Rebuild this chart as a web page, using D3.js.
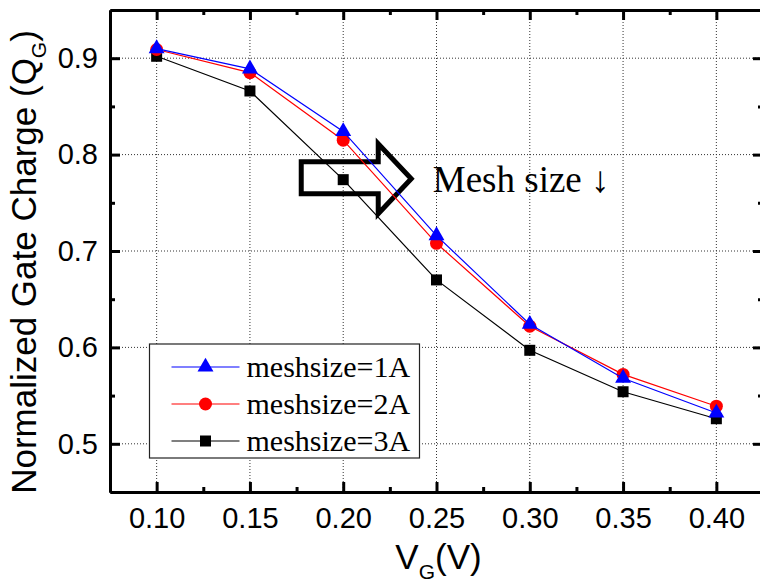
<!DOCTYPE html>
<html>
<head>
<meta charset="utf-8">
<script src="https://cdn.jsdelivr.net/npm/d3@7"></script>
<style>
  body { margin: 0; background: #fff; }
  svg { display: block; }
</style>
</head>
<body>
<div id="chart"></div>
<script>
// gate voltage (V)
const vg = [0.10, 0.15, 0.20, 0.25, 0.30, 0.35, 0.40];
// normalized gate charge for each mesh size
const mesh1 = [0.910, 0.889, 0.824, 0.716, 0.624, 0.568, 0.532];
const mesh2 = [0.909, 0.885, 0.815, 0.708, 0.622, 0.572, 0.539];
const mesh3 = [0.902, 0.866, 0.774, 0.670, 0.597, 0.554, 0.526];
const seriesNames = ["meshsize=1A", "meshsize=2A", "meshsize=3A"];
const xTicks = [0.10, 0.15, 0.20, 0.25, 0.30, 0.35, 0.40];
const xMinor = [0.125, 0.175, 0.225, 0.275, 0.325, 0.375];
const yTicks = [0.5, 0.6, 0.7, 0.8, 0.9];
const yMinor = [0.55, 0.65, 0.75, 0.85];

const width = 760, height = 582;
const margin = {top: 10, right: -3, bottom: 90, left: 110};
const w = width - margin.left - margin.right;
const h = height - margin.top - margin.bottom;

const svg = d3.select("#chart").append("svg")
    .attr("width", width)
    .attr("height", height);

const g = svg.append("g")
    .attr("transform", "translate(" + margin.left + "," + margin.top + ")");

const x = d3.scaleLinear().domain([0.075, 0.425]).range([0, w]);
const y = d3.scaleLinear().domain([0.45, 0.95]).range([h, 0]);

// dotted grid
const grid = g.append("g").attr("class", "grid")
    .attr("stroke", "#333").attr("stroke-width", 1).attr("stroke-dasharray", "1,2");
grid.selectAll(".gx").data(xTicks).enter().append("line")
    .attr("x1", d => x(d)).attr("x2", d => x(d))
    .attr("y1", 0).attr("y2", h);
grid.selectAll(".gy").data(yTicks).enter().append("line")
    .attr("y1", d => y(d)).attr("y2", d => y(d))
    .attr("x1", 0).attr("x2", w);

// annotation arrow (drawn under the data)
const ax = x(0.1775), ay = y(0.776);
const arrowPts = [[0, -16], [77, -16], [77, -34], [110, 1], [77, 36], [77, 16], [0, 16]];
g.append("polygon")
    .attr("points", arrowPts.map(p => (ax + p[0]) + "," + (ay + p[1])).join(" "))
    .attr("fill", "none")
    .attr("stroke", "#000")
    .attr("stroke-width", 5)
    .attr("stroke-linejoin", "miter");

g.append("text")
    .attr("x", x(0.248))
    .attr("y", y(0.7615))
    .attr("font-family", "'Liberation Serif', 'Times New Roman', serif")
    .attr("font-size", 37)
    .text("Mesh size \u2193");

// series
const series = [
    {name: seriesNames[2], values: mesh3, color: "#000000", shape: "square"},
    {name: seriesNames[1], values: mesh2, color: "#ff0000", shape: "circle"},
    {name: seriesNames[0], values: mesh1, color: "#0000ff", shape: "triangle"}
];

const line = d3.line()
    .x((d, i) => x(vg[i]))
    .y(d => y(d));

function marker(sel, shape, color) {
    if (shape === "square") {
        sel.append("rect").attr("x", -5.5).attr("y", -5.5).attr("width", 11).attr("height", 11).attr("fill", color);
    } else if (shape === "circle") {
        sel.append("circle").attr("r", 6.5).attr("fill", color);
    } else {
        sel.append("path").attr("d", d3.symbol(d3.symbolTriangle, 110)()).attr("fill", color);
    }
}

series.forEach(s => {
    g.append("path")
        .datum(s.values)
        .attr("fill", "none")
        .attr("stroke", s.color)
        .attr("stroke-width", 1.2)
        .attr("d", line);
    g.selectAll(null).data(s.values).enter().append("g")
        .attr("transform", (d, i) => "translate(" + x(vg[i]) + "," + y(d) + ")")
        .each(function () { marker(d3.select(this), s.shape, s.color); });
});

// axes on all four sides, ticks pointing inward
const tickFont = "'Liberation Sans', Arial, sans-serif";
function styleAxis(sel) {
    sel.select(".domain").attr("stroke-width", 3);
    sel.selectAll(".tick line").attr("stroke-width", 3);
    sel.selectAll("text").attr("font-family", tickFont).attr("font-size", 29).attr("fill", "#000");
}

const xb = g.append("g").attr("transform", "translate(0," + h + ")")
    .call(d3.axisBottom(x).tickValues(xTicks).tickFormat(d3.format(".2f")).tickSize(-10).tickSizeOuter(0).tickPadding(15));
styleAxis(xb);
const xbm = g.append("g").attr("transform", "translate(0," + h + ")")
    .call(d3.axisBottom(x).tickValues(xMinor).tickFormat("").tickSize(-5).tickSizeOuter(0));
styleAxis(xbm);
const xt = g.append("g")
    .call(d3.axisTop(x).tickValues(xTicks).tickFormat("").tickSize(-10).tickSizeOuter(0));
styleAxis(xt);
const xtm = g.append("g")
    .call(d3.axisTop(x).tickValues(xMinor).tickFormat("").tickSize(-5).tickSizeOuter(0));
styleAxis(xtm);

const yl = g.append("g")
    .call(d3.axisLeft(y).tickValues(yTicks).tickFormat(d3.format(".1f")).tickSize(-10).tickSizeOuter(0).tickPadding(12));
styleAxis(yl);
const ylm = g.append("g")
    .call(d3.axisLeft(y).tickValues(yMinor).tickFormat("").tickSize(-5).tickSizeOuter(0));
styleAxis(ylm);
const yr = g.append("g").attr("transform", "translate(" + w + ",0)")
    .call(d3.axisRight(y).tickValues(yTicks).tickFormat("").tickSize(-10).tickSizeOuter(0));
styleAxis(yr);
const yrm = g.append("g").attr("transform", "translate(" + w + ",0)")
    .call(d3.axisRight(y).tickValues(yMinor).tickFormat("").tickSize(-5).tickSizeOuter(0));
styleAxis(yrm);

// axis titles
const xTitle = svg.append("text")
    .attr("x", margin.left + x(0.25) + 2)
    .attr("y", 569)
    .attr("text-anchor", "middle")
    .attr("font-family", tickFont)
    .attr("font-size", 35);
xTitle.append("tspan").text("V");
xTitle.append("tspan").attr("font-size", 21).attr("dy", 10).text("G");
xTitle.append("tspan").attr("dy", -10).text("(V)");

const yTitle = svg.append("text")
    .attr("transform", "translate(36,262) rotate(-90)")
    .attr("text-anchor", "middle")
    .attr("font-family", tickFont)
    .attr("font-size", 35);
yTitle.append("tspan").text("Normalized Gate Charge (Q");
yTitle.append("tspan").attr("font-size", 21).attr("dy", 10).text("G");
yTitle.append("tspan").attr("dy", -10).text(")");

// legend
const legend = svg.append("g").attr("transform", "translate(149.5,344)");
legend.append("rect")
    .attr("width", 270).attr("height", 114)
    .attr("fill", "#fff").attr("stroke", "#222").attr("stroke-width", 1.2);
const legendItems = [series[2], series[1], series[0]];
legendItems.forEach((s, i) => {
    const row = legend.append("g").attr("transform", "translate(0," + (23 + i * 37) + ")");
    row.append("line").attr("x1", 22).attr("x2", 90)
        .attr("stroke", s.color).attr("stroke-width", 1.2);
    const m = row.append("g").attr("transform", "translate(56,0)");
    marker(m, s.shape, s.color);
    row.append("text")
        .attr("x", 97).attr("y", 10)
        .attr("font-family", "'Liberation Serif', 'Times New Roman', serif")
        .attr("font-size", 30)
        .text(s.name);
});
</script>
</body>
</html>
